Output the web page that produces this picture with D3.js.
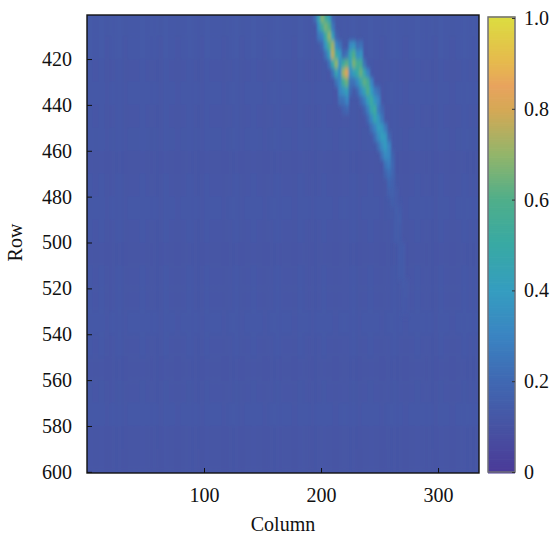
<!DOCTYPE html>
<html lang="en">
  <head>
    <meta charset="UTF-8" />
    <title>Row Column heatmap</title>
    <style>
      html, body { margin: 0; padding: 0; background: #fff; }
      text { font-family: "Liberation Serif", serif; fill: #111; }
    </style>
  </head>
  <body>
    <svg id="container" width="553" height="536"></svg>
    <script src="https://cdn.jsdelivr.net/npm/d3@7"></script>
    <script>
      // tick labels
      const columnTicks = [100, 200, 300];
      const rowTicks = [420, 440, 460, 480, 500, 520, 540, 560, 580, 600];
      const colorTicks = [0, 0.2, 0.4, 0.6, 0.8, 1];

      // colour map
      const colorStops = [0, 0.1, 0.2, 0.3, 0.4, 0.5, 0.6, 0.7, 0.8, 0.85, 0.9, 1];
      const colorValues = ["#4a3a98", "#4753a3", "#4068b2", "#3a84c2", "#359dc0", "#38a9a4", "#4fae8a", "#93b56a", "#d6a855", "#e8a35e", "#e6b84e", "#dcdc40"];

      // background level, every 5 columns and every 10 rows
      const backgroundColumns = d3.range(0, 335, 5);
      const backgroundByColumn = [
        0.125, 0.12, 0.125, 0.115, 0.12, 0.125, 0.115, 0.12, 0.12, 0.125, 0.12, 0.12, 0.115, 0.125, 0.12, 0.115, 0.12,
        0.125, 0.12, 0.115, 0.125, 0.12, 0.12, 0.115, 0.12, 0.125, 0.115, 0.12, 0.125, 0.12, 0.115, 0.12, 0.125, 0.12,
        0.12, 0.115, 0.125, 0.12, 0.115, 0.12, 0.125, 0.12, 0.115, 0.12, 0.12, 0.125, 0.115, 0.12, 0.125, 0.12, 0.115,
        0.12, 0.125, 0.12, 0.115, 0.12, 0.125, 0.12, 0.12, 0.115, 0.125, 0.12, 0.115, 0.12, 0.125, 0.12, 0.12
      ];
      const backgroundRows = d3.range(400, 600, 10);
      const backgroundByRow = [0.008, 0.006, 0, 0.004, 0, 0.002, -0.004, 0, 0.004, 0, -0.004, 0, 0, 0.004, 0, -0.004, -0.002, 0.004, -0.004, -0.008];

      // the bright ridge, each row starts at its own first column, 3 columns apart
      const ridgeRows = [402, 406, 410, 414, 418, 422, 426, 430, 434, 438, 442, 446, 450, 454, 458, 462, 466, 470, 474, 478, 482,
        486, 490, 494, 498, 502, 506, 510, 514, 518, 522, 526, 530];
      const ridgeFirstColumn = [195, 198, 198, 201, 204, 207, 210, 213, 216, 216, 219, 240, 243, 246, 249, 252, 255, 255, 258, 258, 261,
        264, 264, 264, 264, 267, 267, 267, 267, 270, 270, 270, 270];
      const ridgeValues = [
        [0.22, 0.45, 0.68, 0.55, 0.42, 0.18],
        [0.35, 0.55, 0.66, 0.6, 0.25],
        [0.25, 0.3, 0.52, 0.7, 0.42, 0.17],
        [0.2, 0.38, 0.6, 0.72, 0.32, 0.24, 0, 0, 0.32, 0.36, 0.22, 0.24],
        [0.24, 0.42, 0.76, 0.5, 0.4, 0.2, 0.24, 0.46, 0.6, 0.34, 0.36],
        [0.24, 0.48, 0.7, 0.36, 0.52, 0.62, 0.42, 0.66, 0.56, 0.55, 0.24],
        [0.24, 0.45, 0.32, 0.72, 0.83, 0.34, 0.42, 0.5, 0.64, 0.46, 0.3],
        [0.24, 0.32, 0.55, 0.64, 0.24, 0.24, 0.32, 0.46, 0.62, 0.56, 0.3],
        [0.3, 0.36, 0.42, 0.2, 0, 0.2, 0.32, 0.44, 0.6, 0.4, 0.28, 0.22],
        [0.22, 0.24, 0.3, 0, 0, 0, 0.2, 0.28, 0.42, 0.52, 0.38, 0.3],
        [0.17, 0.2, 0, 0, 0, 0, 0.18, 0.28, 0.46, 0.52, 0.28, 0.2],
        [0.2, 0.32, 0.46, 0.38, 0.25],
        [0.22, 0.3, 0.41, 0.38, 0.26],
        [0.22, 0.33, 0.41, 0.38, 0.2],
        [0.22, 0.33, 0.39, 0.3],
        [0.24, 0.33, 0.32, 0.18],
        [0.24, 0.28, 0.2],
        [0.18, 0.23, 0.19],
        [0.19, 0.17],
        [0.165, 0.165, 0.145],
        [0.155, 0.145],
        [0.15, 0.145], [0.145, 0.15], [0.145, 0.145], [0.145, 0.14],
        [0.14, 0.145], [0.145, 0.14], [0.14, 0.14], [0.14, 0.14],
        [0.14, 0.135], [0.135, 0.135], [0.135, 0.13], [0.13, 0.13]
      ];

      const plot = { left: 87, right: 479, top: 15, bottom: 473 };
      const bar = { left: 488, right: 515, top: 17, bottom: 472 };

      let svg = d3.select("#container");
      let x = d3.scaleLinear().domain([0, 335]).range([plot.left, plot.right]);
      let y = d3.scaleLinear().domain([400.8, 600.5]).range([plot.top, plot.bottom]);
      let color = d3.scaleLinear().domain(colorStops).range(colorValues).clamp(true);
      let barScale = d3.scaleLinear().domain([0, 1]).range([472, 18]);

      let defs = svg.append("defs");
      defs.append("clipPath").attr("id", "plot-clip").append("rect")
        .attr("x", plot.left).attr("y", plot.top)
        .attr("width", plot.right - plot.left).attr("height", plot.bottom - plot.top);
      defs.append("filter").attr("id", "soft").attr("x", "-5%").attr("y", "-5%").attr("width", "110%").attr("height", "110%")
        .append("feGaussianBlur").attr("stdDeviation", "0.9 2.4");

      let heat = svg.append("g").attr("clip-path", "url(#plot-clip)");
      heat.append("rect")
        .attr("x", plot.left).attr("y", plot.top)
        .attr("width", plot.right - plot.left).attr("height", plot.bottom - plot.top)
        .attr("fill", color(0.12));

      // background cells
      let backgroundCells = [];
      backgroundRows.forEach((row, j) => {
        backgroundColumns.forEach((col, i) => {
          backgroundCells.push({ col, row, value: backgroundByColumn[i] + backgroundByRow[j] });
        });
      });
      heat.append("g").attr("filter", "url(#soft)")
        .selectAll("rect").data(backgroundCells).enter().append("rect")
        .attr("x", d => x(d.col))
        .attr("y", d => y(d.row))
        .attr("width", x(5) - x(0) + 0.5)
        .attr("height", y(410) - y(400) + 0.5)
        .attr("fill", d => color(d.value));

      // ridge cells
      let ridgeCells = [];
      ridgeRows.forEach((row, j) => {
        ridgeValues[j].forEach((value, i) => {
          if (value > 0) ridgeCells.push({ col: ridgeFirstColumn[j] + i * 3, row, value });
        });
      });
      heat.append("g").attr("filter", "url(#soft)")
        .selectAll("rect").data(ridgeCells).enter().append("rect")
        .attr("x", d => x(d.col - 1.5))
        .attr("y", d => y(d.row - 2))
        .attr("width", x(3) - x(0) + 0.5)
        .attr("height", y(404) - y(400) + 0.5)
        .attr("fill", d => color(d.value));

      // axes, ticks point inwards
      let xAxis = svg.append("g").attr("transform", `translate(0,${plot.bottom})`)
        .call(d3.axisBottom(x).tickValues(columnTicks).tickSize(-5).tickPadding(15));
      let yAxis = svg.append("g").attr("transform", `translate(${plot.left},0)`)
        .call(d3.axisLeft(y).tickValues(rowTicks).tickSize(-5).tickPadding(15));
      [xAxis, yAxis].forEach(a => {
        a.selectAll("text").attr("font-size", 20).attr("font-family", "Liberation Serif");
        a.selectAll("line").attr("stroke", "#111");
        a.select(".domain").remove();
      });
      svg.append("rect")
        .attr("x", plot.left).attr("y", plot.top)
        .attr("width", plot.right - plot.left).attr("height", plot.bottom - plot.top)
        .attr("fill", "none").attr("stroke", "#111").attr("stroke-width", 1.4);

      // colour bar
      let barSteps = d3.range(0, 1.0001, 0.005);
      svg.append("g").selectAll("rect").data(barSteps).enter().append("rect")
        .attr("x", bar.left)
        .attr("y", d => barScale(d) - 1.5)
        .attr("width", bar.right - bar.left)
        .attr("height", 3)
        .attr("fill", d => color(d));
      svg.append("rect")
        .attr("x", bar.left).attr("y", bar.top)
        .attr("width", bar.right - bar.left).attr("height", bar.bottom - bar.top)
        .attr("fill", "none").attr("stroke", "#6f6f78").attr("stroke-width", 1.5);
      let barAxis = svg.append("g").attr("transform", `translate(${bar.right},0)`)
        .call(d3.axisRight(barScale).tickValues(colorTicks).tickSize(-3).tickPadding(9)
          .tickFormat(d => (d === 0 ? "0" : d3.format(".1f")(d))));
      barAxis.select(".domain").remove();
      barAxis.selectAll("line").attr("stroke", "#333");
      barAxis.selectAll("text").attr("font-size", 20).attr("font-family", "Liberation Serif");

      // titles
      svg.append("text").attr("x", x(167.5)).attr("y", 531).attr("text-anchor", "middle")
        .attr("font-size", 20).text("Column");
      svg.append("text").attr("transform", `translate(22,${y(500)}) rotate(-90)`).attr("text-anchor", "middle")
        .attr("font-size", 20).text("Row");
    </script>
  </body>
</html>
